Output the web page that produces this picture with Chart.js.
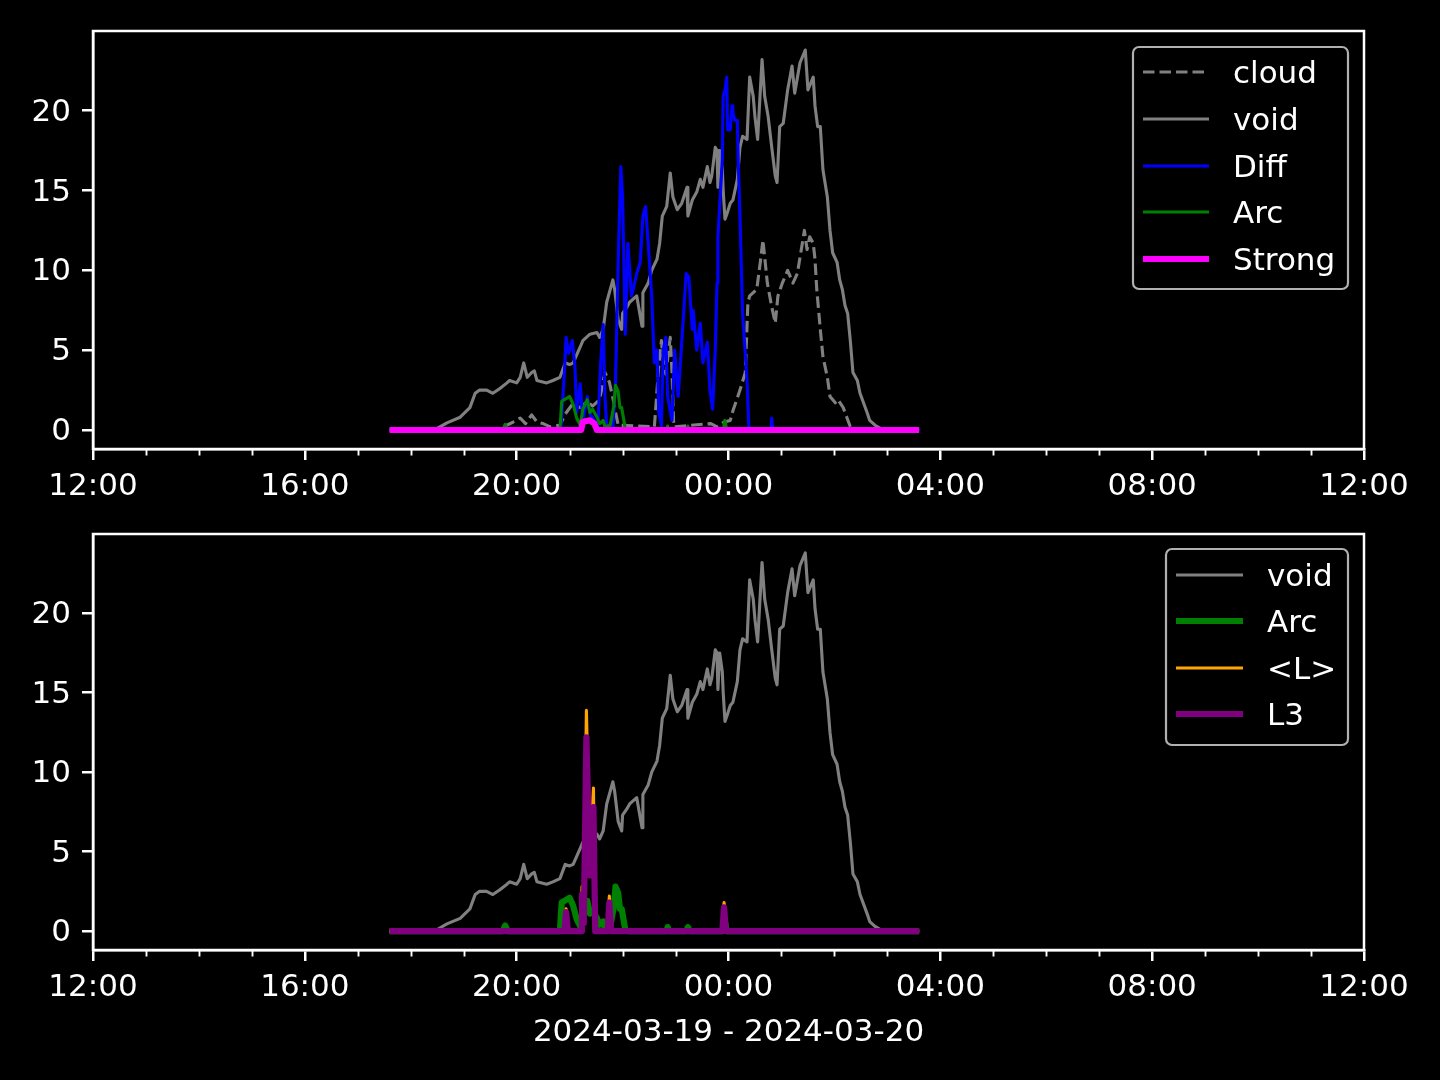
<!DOCTYPE html>
<html>
<head>
<meta charset="utf-8">
<script src="https://cdn.jsdelivr.net/npm/chart.js@4/dist/chart.umd.min.js"></script>
<style>
  html, body { margin: 0; padding: 0; background: #000; }
  #wrap { position: relative; width: 1440px; height: 1080px; background: #000; overflow: hidden; }
  canvas { position: absolute; left: 0; }
</style>
</head>
<body>
<div id="wrap">
  <canvas id="top" width="1440" height="503" style="top:0px"></canvas>
  <canvas id="bottom" width="1440" height="577" style="top:503px"></canvas>
</div>
<script>
// ---------------- DATA ----------------
const dateLabel = "2024-03-19 - 2024-03-20";
const yTickValues = [0, 5, 10, 15, 20];
const xTickHours = [0, 4, 8, 12, 16, 20, 24]; // hours after 12:00

const voidSeries = [
  ["17:36",0],["18:30",0.1],["18:41",0.45],["18:56",0.8],["19:07",1.4],["19:13",2.3],["19:18",2.5],
  ["19:26",2.5],["19:33",2.3],["19:41",2.6],["19:49",2.95],["19:52",3.1],["20:00",2.95],["20:04",3.3],
  ["20:08",4.2],["20:12",3.3],["20:17",3.6],["20:20",3.7],["20:23",3.1],["20:34",2.95],["20:41",3.1],
  ["20:49",3.3],["20:55",4.2],["21:00",4.1],["21:04",4.2],["21:12",5.2],["21:15",5.6],["21:23",6.0],
  ["21:31",6.1],["21:34",5.8],["21:38",6.3],["21:42",8.0],["21:49",9.4],["21:51",8.8],["21:55",6.9],
  ["21:59",6.3],["22:00",7.3],["22:05",7.7],["22:08",8.0],["22:16",8.4],["22:22",6.5],["22:23",8.6],
  ["22:29",9.2],["22:33",10.0],["22:39",10.7],["22:42",11.7],["22:45",13.4],["22:50",14.0],["22:54",16.1],
  ["22:57",14.6],["23:02",13.8],["23:07",14.2],["23:13",15.2],["23:14",13.4],["23:19",14.4],["23:24",14.9],
  ["23:28",15.7],["23:31",15.2],["23:36",16.5],["23:39",15.5],["23:41",15.9],["23:45",17.7],["23:47",17.5],
  ["23:48",15.2],["23:50",17.5],["23:53",16.3],["23:54",15.0],["23:56",13.2],["23:58",13.5],["00:02",14.2],
  ["00:05",14.4],["00:10",15.7],["00:13",17.7],["00:16",18.4],["00:21",18.2],["00:24",22.1],["00:28",20.9],
  ["00:30",19.6],["00:33",18.2],["00:38",23.2],["00:41",20.9],["00:45",19.6],["00:49",17.7],["00:53",15.9],
  ["00:55",15.5],["00:58",19.0],["01:02",19.2],["01:07",21.3],["01:12",22.8],["01:15",21.1],["01:21",23.0],
  ["01:27",23.8],["01:30",21.3],["01:36",22.1],["01:38",20.3],["01:41",19.0],["01:44",19.0],["01:47",16.3],
  ["01:52",14.6],["01:55",12.5],["01:58",11.1],["02:03",10.5],["02:06",9.4],["02:09",8.8],["02:12",7.8],
  ["02:15",7.3],["02:18",5.6],["02:21",3.6],["02:26",3.1],["02:29",2.3],["02:37",1.1],["02:40",0.6],
  ["02:46",0.3],["02:52",0.1],["03:36",0]
];

const cloudSeries = [
  ["17:36",0],["19:41",0],["19:49",0.3],["19:56",0.5],["20:04",0.75],["20:10",0.4],["20:17",0.95],
  ["20:23",0.5],["20:30",0.4],["20:38",0.2],["20:49",0.3],["20:55",1.0],["21:03",1.6],["21:12",1.4],
  ["21:20",1.8],["21:26",1.5],["21:34",1.9],["21:40",3.6],["21:45",3.0],["21:49",2.0],["21:55",0.3],
  ["22:36",0.2],["22:41",4.0],["22:44",5.6],["22:46",4.4],["22:49",3.5],["22:54",5.8],["22:56",3.6],
  ["22:58",0.2],["23:40",0.4],["23:47",0.2],["23:55",0.5],["00:02",0.6],["00:05",1.2],["00:13",2.5],
  ["00:19",3.6],["00:22",8.0],["00:24",8.4],["00:32",8.8],["00:36",10.5],["00:39",11.9],["00:44",9.2],
  ["00:49",7.7],["00:53",6.7],["00:56",8.4],["01:01",9.2],["01:04",9.6],["01:07",10.0],["01:13",9.2],
  ["01:18",9.8],["01:21",10.8],["01:26",12.5],["01:29",11.3],["01:32",12.1],["01:36",11.7],["01:38",10.7],
  ["01:40",8.8],["01:44",6.3],["01:47",4.6],["01:52",3.3],["01:55",2.1],["02:01",1.7],["02:04",1.9],
  ["02:10",1.4],["02:14",0.8],["02:18",0.2],["02:22",0],["03:36",0]
];

const diffSeries = [
  ["17:36",0],["20:50",0],["20:54",3.5],["20:56",5.8],["20:59",4.8],["21:03",5.6],["21:06",4.0],
  ["21:08",1.1],["21:12",2.9],["21:15",0.6],["21:20",2.1],["21:23",1.0],["21:26",0.8],["21:32",0.2],
  ["21:35",4.0],["21:38",6.6],["21:40",2.1],["21:42",0.3],["21:49",0.1],["21:52",3.0],["21:55",10.5],
  ["21:58",16.5],["22:00",14.6],["22:03",6.0],["22:06",11.7],["22:10",8.4],["22:12",8.8],["22:16",9.8],
  ["22:20",10.5],["22:23",13.4],["22:26",14.0],["22:29",11.7],["22:33",8.4],["22:36",4.2],["22:39",5.0],
  ["22:41",1.1],["22:44",0.3],["22:46",5.0],["22:49",5.8],["22:51",2.1],["22:56",0.6],["22:59",5.0],
  ["23:03",2.1],["23:08",6.3],["23:12",9.8],["23:15",9.6],["23:19",6.3],["23:20",7.5],["23:24",5.0],
  ["23:28",6.7],["23:31",4.2],["23:36",5.5],["23:39",2.5],["23:42",1.3],["23:45",5.0],["23:47",9.2],
  ["23:48",12.1],["23:53",16.9],["23:54",20.9],["23:56",21.3],["23:58",22.1],["23:59",18.8],["00:02",18.8],
  ["00:04",20.3],["00:05",19.9],["00:07",19.4],["00:10",19.4],["00:11",16.9],["00:13",13.4],["00:16",7.3],
  ["00:21",3.1],["00:23",0.2],["00:24",0],["00:48",0],["00:49",0.75],["00:50",0],["03:36",0]
];

const arcSeries = [
  ["17:36",0],["19:44",0],["19:47",0.35],["19:50",0],["20:49",0],["20:51",1.8],["20:57",2.0],["21:00",2.1],
  ["21:04",1.6],["21:08",0.75],["21:12",0.3],["21:15",1.3],["21:20",1.9],["21:23",1.1],["21:26",1.3],
  ["21:31",0.8],["21:34",0.4],["21:38",0.6],["21:40",0.2],["21:46",0.3],["21:50",1.5],["21:52",2.8],
  ["21:55",2.4],["21:57",1.4],["21:59",1.4],["22:03",0.1],["22:06",0],["22:50",0],["22:51",0.25],
  ["22:53",0],["23:12",0],["23:14",0.25],["23:16",0],["23:54",0],["23:56",0.6],["23:58",0],["03:36",0]
];

const strongSeries = [
  ["17:36",0],["21:13",0],["21:15",0.5],["21:18",0.55],["21:23",0.6],["21:28",0.4],["21:31",0],["03:36",0]
];

const lMeanSeries = [
  ["17:36",0],["20:54",0],["20:56",1.4],["20:58",0],["21:13",0],["21:14",2.8],["21:16",0.5],["21:19",13.9],
  ["21:23",4.0],["21:27",9.0],["21:29",0],["21:43",0],["21:45",2.2],["21:47",0],["23:53",0],["23:55",1.8],
  ["23:57",0],["03:36",0]
];

const l3Series = [
  ["17:36",0],["20:54",0],["20:56",1.2],["20:58",0],["21:13",0],["21:14",2.3],["21:16",0.5],["21:19",12.2],
  ["21:23",3.5],["21:27",7.8],["21:29",0],["21:43",0],["21:45",1.8],["21:47",0],["23:53",0],["23:55",1.5],
  ["23:57",0],["03:36",0]
];

// ---------------- HELPERS ----------------
function hoursAfterNoon(t) {
  const [H, M] = t.split(":").map(Number);
  let h = H + M / 60 - 12;
  if (h < 0) h += 24;
  return h;
}
function toXY(series) { return series.map(([t, v]) => ({ x: hoursAfterNoon(t), y: v })); }
function pad2(n) { return (n < 10 ? "0" : "") + n; }

const FS = 31;
Chart.defaults.font.family = "'DejaVu Sans', 'Liberation Sans', sans-serif";
Chart.defaults.font.size = FS;
Chart.defaults.color = "#ffffff";

const FONT = FS + "px 'DejaVu Sans', sans-serif";

const framePlugin = {
  id: "mplFrame",
  afterDraw(chart) {
    const ctx = chart.ctx, a = chart.chartArea;
    ctx.save();
    ctx.strokeStyle = "#ffffff";
    ctx.lineWidth = 2.5;
    ctx.strokeRect(a.left, a.top, a.right - a.left, a.bottom - a.top);
    // minor ticks every hour
    const xs = chart.scales.x;
    ctx.lineWidth = 1.9;
    for (let h = 0; h <= 24; h++) {
      if (h % 4 === 0) continue;
      const px = Math.round(xs.getPixelForValue(h)) + 0.5;
      ctx.beginPath();
      ctx.moveTo(px, a.bottom);
      ctx.lineTo(px, a.bottom + 6.5);
      ctx.stroke();
    }
    // legend
    const lg = chart.options.plugins.mplLegend;
    if (lg) {
      ctx.fillStyle = "#000";
      ctx.strokeStyle = "#b0b0b0";
      ctx.lineWidth = 2.2;
      ctx.beginPath();
      ctx.roundRect(lg.x, lg.y, lg.w, lg.h, 6);
      ctx.fill();
      ctx.stroke();
      chart.data.datasets.forEach((ds, i) => {
        const y = lg.rowY[i];
        ctx.save();
        ctx.strokeStyle = ds.borderColor;
        ctx.lineWidth = ds.borderWidth;
        ctx.setLineDash(ds.borderDash || []);
        ctx.lineCap = "butt";
        ctx.beginPath();
        ctx.moveTo(lg.sx0, y);
        ctx.lineTo(lg.sx1, y);
        ctx.stroke();
        ctx.restore();
        ctx.fillStyle = "#fff";
        ctx.font = FONT;
        ctx.textBaseline = "middle";
        ctx.textAlign = "left";
        ctx.fillText(ds.label, lg.tx, y + 3);
      });
    }
    const xl = chart.options.plugins.mplXLabel;
    if (xl) {
      ctx.fillStyle = "#fff";
      ctx.font = FONT;
      ctx.textAlign = "center";
      ctx.textBaseline = "middle";
      ctx.fillText(xl.text, (a.left + a.right) / 2, xl.y);
    }
    ctx.restore();
  }
};

function makeDataset(label, series, color, width, dash) {
  return {
    label: label,
    data: toXY(series),
    borderColor: color,
    backgroundColor: color,
    borderWidth: width,
    borderDash: dash || [],
    borderJoinStyle: "round",
    borderCapStyle: "butt",
    pointRadius: 0,
    tension: 0,
    fill: false
  };
}

function makeOptions(axisHeight, extraPlugins) {
  return {
    responsive: false,
    animation: false,
    devicePixelRatio: 1,
    layout: { padding: { top: 31, right: 76, left: 0, bottom: 0 } },
    plugins: Object.assign({ legend: { display: false }, tooltip: { enabled: false } }, extraPlugins),
    scales: {
      x: {
        type: "linear",
        min: 0, max: 24,
        afterFit(s) { s.height = axisHeight; },
        afterBuildTicks(s) { s.ticks = xTickHours.map(v => ({ value: v })); },
        ticks: {
          color: "#fff",
          padding: 8,
          maxRotation: 0,
          autoSkip: false,
          font: { size: FS },
          callback: v => pad2((12 + v) % 24) + ":00"
        },
        grid: { display: true, drawOnChartArea: false, drawTicks: true, tickLength: 11, color: "#fff", lineWidth: 2.5 },
        border: { display: true, color: "#fff", width: 2.5 }
      },
      y: {
        type: "linear",
        min: -1.19, max: 24.99,
        afterFit(s) { s.width = 93; },
        afterBuildTicks(s) { s.ticks = yTickValues.map(v => ({ value: v })); },
        ticks: { color: "#fff", padding: 11, labelOffset: 2, font: { size: FS }, callback: v => String(v) },
        grid: { display: true, drawOnChartArea: false, drawTicks: true, tickLength: 11, color: "#fff", lineWidth: 2.5 },
        border: { display: true, color: "#fff", width: 2.5 }
      }
    }
  };
}

function withOrder(datasets) {
  const n = datasets.length;
  datasets.forEach((d, i) => { d.order = n - i; });
  return datasets;
}

// ---------------- TOP PANEL ----------------
const topDatasets = withOrder([
  makeDataset("cloud", cloudSeries, "#808080", 3.1, [11.5, 5]),
  makeDataset("void", voidSeries, "#808080", 3.1),
  makeDataset("Diff", diffSeries, "#0000ff", 3.1),
  makeDataset("Arc", arcSeries, "#008000", 3.1),
  makeDataset("Strong", strongSeries, "#ff00ff", 6.2)
]);
new Chart(document.getElementById("top"), {
  type: "line",
  data: { datasets: topDatasets },
  options: makeOptions(54, {
    mplLegend: { x: 1133, y: 47, w: 215, h: 242, sx0: 1143, sx1: 1209, tx: 1233, rowY: [72, 119, 166, 212, 259] }
  }),
  plugins: [framePlugin]
});

// ---------------- BOTTOM PANEL ----------------
const bottomDatasets = withOrder([
  makeDataset("void", voidSeries, "#808080", 3.1),
  makeDataset("Arc", arcSeries, "#008000", 6.2),
  makeDataset("<L>", lMeanSeries, "#ffa500", 3.1),
  makeDataset("L3", l3Series, "#800080", 6.2)
]);
new Chart(document.getElementById("bottom"), {
  type: "line",
  data: { datasets: bottomDatasets },
  options: makeOptions(130, {
    mplLegend: { x: 1166, y: 46, w: 182, h: 196, sx0: 1176, sx1: 1243, tx: 1267, rowY: [72, 118, 165, 211] },
    mplXLabel: { text: dateLabel, y: 530 }
  }),
  plugins: [framePlugin]
});
</script>
</body>
</html>
